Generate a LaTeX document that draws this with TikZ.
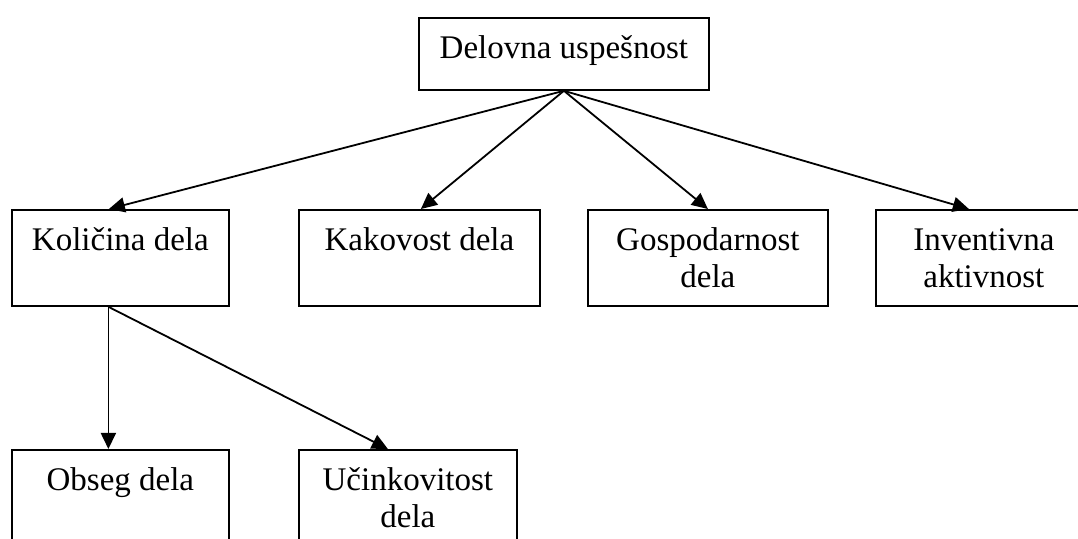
\documentclass[tikz,border=0pt]{standalone}
\usepackage{fontspec}
\setmainfont{Liberation Serif}
\usetikzlibrary{positioning,arrows.meta}

\newcommand{\okvir}[3]{\parbox[t][#2][t]{#1}{\centering\rule{0pt}{20.5pt}#3}}

\begin{document}
\begin{tikzpicture}[x=0.5pt,y=-0.5pt,line width=0.9pt,
  blok/.style={draw,inner sep=0pt,anchor=north west,font=\fontsize{16.5}{18.5}\selectfont},
  puscica/.style={-{Triangle[length=8pt,width=7.5pt]}}]
\clip (0,0) rectangle (1078,539);
\fill[white] (0,0) rectangle (1078,539);

\node[blok] (uspesnost) at (418,17) {\okvir{145pt}{36pt}{Delovna uspešnost}};

\node[blok] (kolicina) at (11,209) {\okvir{108.5pt}{48pt}{Količina dela}};
\node[blok] (kakovost) at (298,209) {\okvir{120.5pt}{48pt}{Kakovost dela}};
\node[blok] (gospodarnost) at (587,209) {\okvir{120pt}{48pt}{Gospodarnost\\dela}};
\node[blok] (inventivnost) at (875,209) {\okvir{108pt}{48pt}{Inventivna\\aktivnost}};

\node[blok] (obseg) at (11,449) {\okvir{108.5pt}{48pt}{Obseg dela}};
\node[blok] (ucinkovitost) at (298,449) {\okvir{109pt}{48pt}{Učinkovitost\\dela}};

\draw[puscica] (uspesnost.south) -- ([xshift=-5.75pt]kolicina.north);
\draw[puscica] (uspesnost.south) -- ([xshift=0.75pt]kakovost.north);
\draw[puscica] (uspesnost.south) -- (gospodarnost.north);
\draw[puscica] (uspesnost.south) -- ([xshift=-7.5pt]inventivnost.north);

\draw[puscica] ([xshift=-6pt]kolicina.south) -- ([xshift=-6pt]obseg.north);
\draw[puscica] ([xshift=-6pt]kolicina.south) -- ([xshift=-10pt]ucinkovitost.north);
\end{tikzpicture}
\end{document}
